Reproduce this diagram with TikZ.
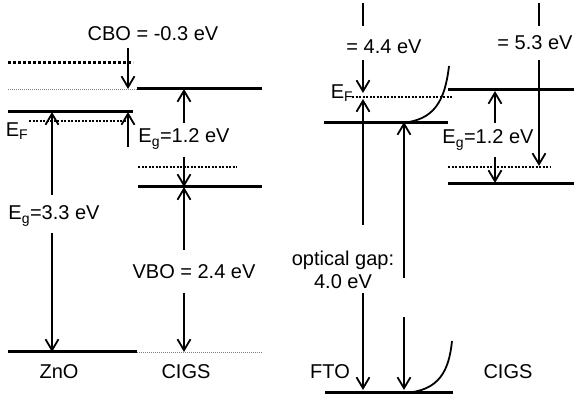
\documentclass[tikz,border=0pt]{standalone}
\usepackage{fontspec}
\setmainfont{Liberation Sans}
\usetikzlibrary{arrows.meta}
\begin{document}
\begin{tikzpicture}[
  x=1pt,y=-1pt,
  lvl/.style={line width=3pt},
  lvldot/.style={line width=3pt,dash pattern=on 3pt off 2pt},
  fermi/.style={line width=1.8pt,dash pattern=on 2pt off 1.5pt},
  ref/.style={line width=0.8pt,gray,dash pattern=on 1pt off 1pt},
  arr/.style={line width=1.8pt,-{Straight Barb[length=11pt,width=13pt]}},
  bar/.style={line width=1.8pt},
  lbl/.style={font=\fontsize{20}{23}\selectfont,inner sep=0pt},
]
  \useasboundingbox (0,0) rectangle (574,398);
  % ZnO / CIGS levels
  \draw[lvldot] (8,63) -- (133,63);
  \draw[ref]    (8,89) -- (137,89);
  \draw[lvl]    (137,89) -- (262,89);
  \draw[lvl]    (8,112) -- (133,112);
  \draw[fermi]  (29,121) -- (126,121);
  \draw[fermi]  (138,167) -- (237,167);
  \draw[lvl]    (138,187) -- (262,187);
  \draw[lvl]    (8,352) -- (137,352);
  \draw[ref]    (137,352) -- (262,352);
  % FTO / CIGS levels
  \draw[fermi]  (352,97) -- (452,97);
  \draw[lvl]    (324,123) -- (448,123);
  \draw[lvl]    (325,393) -- (453,393);
  \draw[lvl]    (448,90) -- (574,90);
  \draw[fermi]  (448,167) -- (550,167);
  \draw[lvl]    (448,184) -- (574,184);
  \draw[bar] (400,123) .. controls (435,121) and (445,100) .. (449,66);
  \draw[bar] (404,393) .. controls (440,391) and (449,370) .. (452,341);
  % labels
  \node[lbl] (cbo)    at (153,34)  {CBO = -0.3 eV};
  \node[lbl] (efZnO)  at (17,131)  {E\textsubscript{F}};
  \node[lbl] (egZnO)  at (54,216)  {E\textsubscript{g}=3.3 eV};
  \node[lbl] (egL)    at (184,139) {E\textsubscript{g}=1.2 eV};
  \node[lbl] (vbo)    at (194,272) {VBO = 2.4 eV};
  \node[lbl] (zno)    at (59,372)  {ZnO};
  \node[lbl] (cigsL)  at (186,372) {CIGS};
  \node[lbl] (wfFTO)  at (384,47)  {= 4.4 eV};
  \node[lbl] (efFTO)  at (342,93)  {E\textsubscript{F}};
  \node[lbl,align=center] (opt) at (343,270) {optical gap:\\4.0 eV};
  \node[lbl] (egR)    at (488,140) {E\textsubscript{g}=1.2 eV};
  \node[lbl] (wfCIGS) at (535,43)  {= 5.3 eV};
  \node[lbl] (fto)    at (330,372) {FTO};
  \node[lbl] (cigsR)  at (508,372) {CIGS};
  % arrow ends
  \coordinate (a1) at (128,48);  \coordinate (a1e) at (128,89);
  \coordinate (a2) at (128,147); \coordinate (a2e) at (128,112);
  \coordinate (a3) at (52,195);  \coordinate (a3e) at (52,112);
  \coordinate (a4) at (52,233);  \coordinate (a4e) at (52,352);
  \coordinate (a5) at (184,123); \coordinate (a5e) at (184,89);
  \coordinate (a6) at (184,157); \coordinate (a6e) at (184,187);
  \coordinate (a7) at (184,250); \coordinate (a7e) at (184,187);
  \coordinate (a8) at (184,293); \coordinate (a8e) at (184,352);
  \coordinate (b1) at (363,3);   \coordinate (b1e) at (363,26);
  \coordinate (b2) at (363,60);  \coordinate (b2e) at (363,93);
  \coordinate (b3) at (363,225); \coordinate (b3e) at (363,99);
  \coordinate (b4) at (363,293); \coordinate (b4e) at (363,390);
  \coordinate (b5) at (404,278); \coordinate (b5e) at (404,122);
  \coordinate (b6) at (404,317); \coordinate (b6e) at (404,390);
  \coordinate (c1) at (495,123); \coordinate (c1e) at (495,91);
  \coordinate (c2) at (495,157); \coordinate (c2e) at (495,183);
  \coordinate (c3) at (539,3);   \coordinate (c3e) at (539,26);
  \coordinate (c4) at (539,60);  \coordinate (c4e) at (539,166);
  \draw[arr] (a1) -- (a1e);
  \draw[arr] (a2) -- (a2e);
  \draw[arr] (a3) -- (a3e);
  \draw[arr] (a4) -- (a4e);
  \draw[arr] (a5) -- (a5e);
  \draw[arr] (a6) -- (a6e);
  \draw[arr] (a7) -- (a7e);
  \draw[arr] (a8) -- (a8e);
  \draw[bar] (b1) -- (b1e);
  \draw[arr] (b2) -- (b2e);
  \draw[arr] (b3) -- (b3e);
  \draw[arr] (b4) -- (b4e);
  \draw[arr] (b5) -- (b5e);
  \draw[arr] (b6) -- (b6e);
  \draw[arr] (c1) -- (c1e);
  \draw[arr] (c2) -- (c2e);
  \draw[bar] (c3) -- (c3e);
  \draw[arr] (c4) -- (c4e);
\end{tikzpicture}
\end{document}
